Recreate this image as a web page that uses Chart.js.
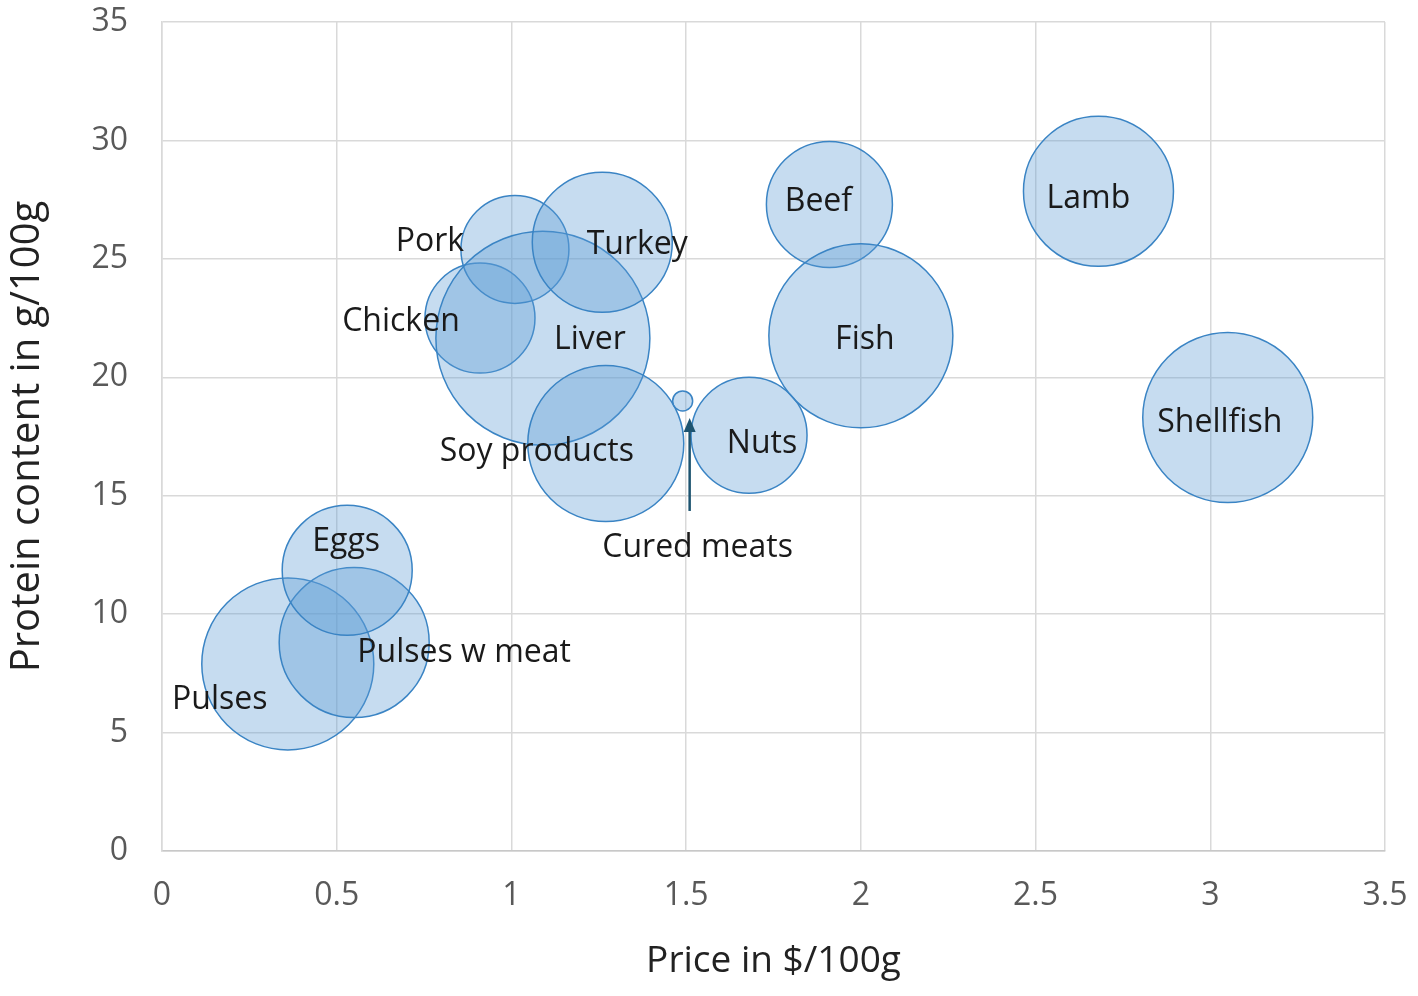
<!DOCTYPE html>
<html>
<head>
<meta charset="utf-8">
<title>Protein content vs price</title>
<script src="https://cdn.jsdelivr.net/npm/chart.js@4.4.1/dist/chart.umd.min.js"></script>
<style>
  html, body { margin: 0; padding: 0; background: #fff; }
  #wrap { width: 1418px; height: 996px; position: relative; }
</style>
</head>
<body>
<div id="wrap"><canvas id="chart"></canvas></div>
<script>
// food categories, price ($/100g), protein (g/100g), bubble radius (px)
const foods = ['Pulses', 'Pulses w meat', 'Eggs', 'Chicken', 'Pork', 'Liver', 'Turkey',
  'Soy products', 'Cured meats', 'Nuts', 'Beef', 'Fish', 'Lamb', 'Shellfish'];
const prices = [0.36, 0.55, 0.53, 0.91, 1.01, 1.09, 1.26, 1.27, 1.49, 1.68, 1.91, 2.0, 2.68, 3.05];
const protein = [7.9, 8.8, 11.85, 22.5, 25.4, 21.65, 25.7, 17.2, 19.0, 17.55, 27.3, 21.75, 27.85, 18.3];
const bubbleSizes = [86, 75, 65, 55, 54, 107, 70, 78, 10, 58, 63, 92, 75, 85];

const xTicks = [0, 0.5, 1, 1.5, 2, 2.5, 3, 3.5];
const yTicks = [0, 5, 10, 15, 20, 25, 30, 35];

// label offsets from bubble centre (px), text drawn centred
const labelOffsets = [
  [-68, 45], [110, 19], [-1, -19], [-79, 13], [-85, 2], [47, 11], [35, 12],
  [-69, 17], [15, 156], [13, 18], [-11, 7], [4, 13], [-10, 17], [-8, 14]
];

const bubbleData = foods.map((f, i) => ({ x: prices[i], y: protein[i], r: bubbleSizes[i] }));

const labelPlugin = {
  id: 'foodLabels',
  afterDatasetsDraw(chart) {
    const ctx = chart.ctx;
    const meta = chart.getDatasetMeta(0);
    ctx.save();
    ctx.font = '32px "Open Sans", sans-serif';
    ctx.fillStyle = '#1a1a1a';
    ctx.textAlign = 'center';
    ctx.textBaseline = 'alphabetic';
    meta.data.forEach((pt, i) => {
      ctx.fillText(foods[i], pt.x + labelOffsets[i][0], pt.y + labelOffsets[i][1]);
    });

    // arrow pointing at the small cured meats bubble
    const cm = meta.data[foods.indexOf('Cured meats')];
    const ax = cm.x + 7;
    const y0 = cm.y + 110, y1 = cm.y + 17;
    ctx.strokeStyle = '#1d5470';
    ctx.fillStyle = '#1d5470';
    ctx.lineWidth = 2.5;
    ctx.beginPath();
    ctx.moveTo(ax, y0);
    ctx.lineTo(ax, y1 + 10);
    ctx.stroke();
    ctx.beginPath();
    ctx.moveTo(ax, y1);
    ctx.lineTo(ax - 6, y1 + 14);
    ctx.lineTo(ax + 6, y1 + 14);
    ctx.closePath();
    ctx.fill();
    ctx.restore();
  }
};

new Chart(document.getElementById('chart'), {
  type: 'bubble',
  data: {
    datasets: [{
      data: bubbleData,
      backgroundColor: 'rgba(91, 155, 213, 0.35)',
      borderColor: '#3a84c4',
      borderWidth: 1.5,
      hoverBorderWidth: 1.5
    }]
  },
  options: {
    responsive: true,
    maintainAspectRatio: false,
    animation: false,
    layout: { autoPadding: false, padding: { top: 22, right: 33, left: 0, bottom: 0 } },
    plugins: {
      legend: { display: false },
      tooltip: { enabled: false }
    },
    scales: {
      x: {
        type: 'linear',
        min: 0,
        max: 3.5,
        afterFit(scale) {
          scale.height = 145;
          scale.paddingLeft = 0;
          scale.paddingRight = 0;
        },
        afterBuildTicks(scale) { scale.ticks = xTicks.map(v => ({ value: v })); },
        grid: { color: '#d9d9d9', lineWidth: 1.5, drawTicks: false },
        border: { color: '#c8c8c8', width: 1.5 },
        ticks: {
          padding: 26,
          color: '#595959',
          font: { family: '"Open Sans", sans-serif', size: 32 },
          callback: v => String(v)
        },
        title: {
          display: true,
          text: 'Price in $/100g',
          color: '#222',
          padding: { bottom: 12 },
          font: { family: '"Open Sans", sans-serif', size: 37 }
        }
      },
      y: {
        type: 'linear',
        min: 0,
        max: 35,
        afterFit(scale) {
          scale.width = 162;
          scale.paddingTop = 0;
          scale.paddingBottom = 0;
        },
        afterBuildTicks(scale) { scale.ticks = yTicks.map(v => ({ value: v })); },
        grid: { color: '#d9d9d9', lineWidth: 1.5, drawTicks: false },
        border: { color: '#d9d9d9', width: 1.5 },
        ticks: {
          padding: 34,
          color: '#595959',
          font: { family: '"Open Sans", sans-serif', size: 32 },
          callback: v => String(v)
        },
        title: {
          display: true,
          text: 'Protein content in g/100g',
          color: '#222',
          padding: { top: 4 },
          font: { family: '"Open Sans", sans-serif', size: 40 }
        }
      }
    }
  },
  plugins: [labelPlugin]
});
</script>
</body>
</html>
